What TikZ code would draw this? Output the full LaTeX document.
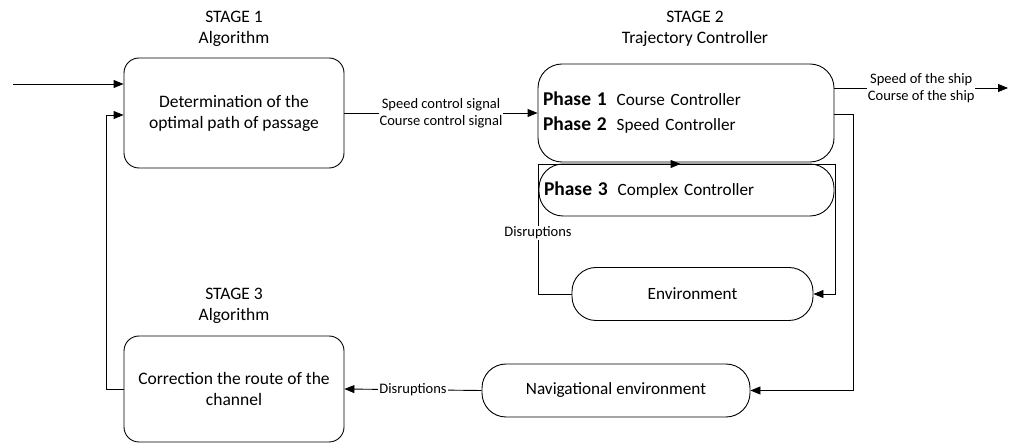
\documentclass[tikz,border=0pt]{standalone}
\usepackage{fontspec}
\setmainfont{Carlito}
\usetikzlibrary{arrows.meta,decorations.markings}
\begin{document}
\begin{tikzpicture}[x=1pt,y=-1pt,
  line width=0.9pt,
  tip/.style={-{Triangle[length=10pt,width=8pt]}},
  sbox/.style={draw,rounded corners=15pt,inner sep=0pt,align=center,font=\fontsize{17.5}{21}\selectfont},
  tbox/.style={draw,rounded corners=24pt,inner sep=0pt,font=\fontsize{17.2}{25}\selectfont},
  head/.style={align=center,font=\fontsize{17.5}{21}\selectfont},
  lbl/.style={fill=white,inner sep=1pt,align=center,font=\fontsize{14.5}{17}\selectfont},
  ph/.style={},
  midarr/.style={postaction={decorate},decoration={markings,mark=at position 0.48 with {\arrow{Triangle[length=10pt,width=8pt]}}}}
]
\useasboundingbox (0,0) rectangle (1013,443);

% headings
\node[head] (h1) at (234,29) {STAGE 1\\Algorithm};
\node[head] (h2) at (695,29) {STAGE 2\\Trajectory Controller};
\node[head] (h3) at (234,306) {STAGE 3\\Algorithm};

% boxes
\node[sbox,minimum width=220pt,minimum height=110pt] (s1) at (234,113) {Determination of the\\optimal path of passage};
\node[sbox,minimum width=220pt,minimum height=106pt] (s3) at (234,389) {Correction the route of the\\channel};
\node[tbox,minimum width=296pt,minimum height=98pt,text width=286pt,align=left] (s2) at (686,113)
  {{\fontsize{19.5}{25}\selectfont\bfseries Phase 1}\hspace{10pt}Course Controller\\{\fontsize{19.5}{25}\selectfont\bfseries Phase 2}\hspace{10pt}Speed Controller};
\node[tbox,minimum width=295pt,minimum height=52pt,text width=285pt,align=left] (p3) at (686.5,190)
  {{\fontsize{19.5}{25}\selectfont\bfseries Phase 3}\hspace{10pt}Complex Controller};
\node[tbox,minimum width=241pt,minimum height=53pt] (env) at (692.5,294) {Environment};
\node[tbox,minimum width=268pt,minimum height=53pt] (nav) at (616,390.5) {Navigational environment};

% coordinates
\coordinate (in) at (13,84);
\coordinate (out) at (1008,88);
\coordinate (fbL) at (106,389);
\coordinate (fbT) at (106,115);
\coordinate (navR) at (853,114);
\coordinate (eL) at (538,294);
\coordinate (eTL) at (538,164);
\coordinate (eTR) at (835,164);

% connectors
\draw[tip] (in) -- (in -| s1.west);
\draw[tip] (s1.east) -- node[lbl] {Speed control signal\\Course control signal} (s2.west);
\draw[tip] (s2.east |- out) -- node[lbl] {Speed of the ship\\Course of the ship} (out);
\draw[tip] (s2.east |- navR) -- (navR) -- (navR |- nav.east) -- (nav.east);
\draw[tip] (nav.west) -- node[lbl] {Disruptions} (s3.east);
\draw[tip] (s3.west) -- (fbL) -- (fbT) -- (fbT -| s1.west);
\draw (env.west) -- (eL) -- node[lbl,pos=0.47] {Disruptions} (eTL);
\draw[midarr] (eTL) -- (eTR);
\draw[tip] (eTR) -- (eTR |- env.east) -- (env.east);
\end{tikzpicture}
\end{document}
